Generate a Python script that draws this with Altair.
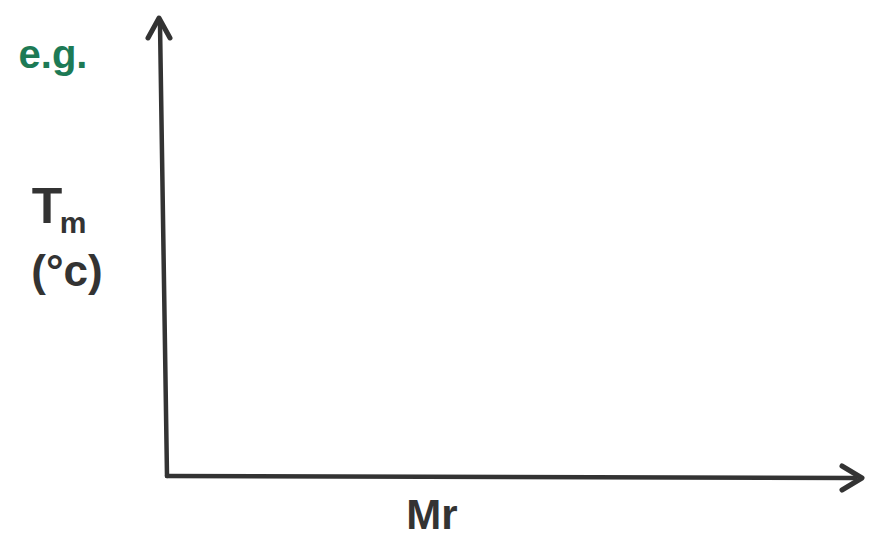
import altair as alt
import pandas as pd

# Axis lines (origin at the corner of the axes, units ~ pixels)
axis_name = ["y-axis", "y-axis", "x-axis", "x-axis"]
axis_x = [-5, 2, 2, 690]
axis_y = [452, 0, 0, -2]

# Arrow heads
head_name = ["up", "right"]
head_x = [-6, 697]
head_y = [458, -2]
head_shape = ["M-0.55,1L0,0L0.55,1", "M-1,-0.6L0,0L-1,0.6"]

# Labels
label_text = ["e.g.", "T", "m", "(°c)", "Mr"]
label_x = [-112, -118, -92, -98, 267]
label_y = [420, 268, 252, 203, -40]
label_size = [40, 50, 30, 44, 42]
label_color = ["#1d7a55", "#333333", "#333333", "#333333", "#333333"]

W, H = 861, 534
xs = alt.Scale(domain=[-157, 704], nice=False, zero=False)
ys = alt.Scale(domain=[-66, 468], nice=False, zero=False)

lines = pd.DataFrame({"axis": axis_name, "x": axis_x, "y": axis_y, "o": [0, 1, 0, 1]})
heads = pd.DataFrame({"name": head_name, "x": head_x, "y": head_y, "shape": head_shape})
labels = pd.DataFrame({"t": label_text, "x": label_x, "y": label_y, "s": label_size, "c": label_color})

line_layer = alt.Chart(lines).mark_line(
    color="#333333", strokeWidth=4.5, strokeCap="round"
).encode(
    x=alt.X("x:Q", scale=xs, axis=None),
    y=alt.Y("y:Q", scale=ys, axis=None),
    detail="axis:N",
    order="o:Q",
)

head_layers = []
for i in range(len(head_name)):
    d = heads.iloc[[i]]
    head_layers.append(
        alt.Chart(d).mark_point(
            shape=head_shape[i], filled=False, size=1600,
            stroke="#333333", strokeWidth=5, strokeCap="round", strokeJoin="round", opacity=1,
        ).encode(
            x=alt.X("x:Q", scale=xs, axis=None),
            y=alt.Y("y:Q", scale=ys, axis=None),
        )
    )

text_layers = []
for i in range(len(label_text)):
    d = labels.iloc[[i]]
    text_layers.append(
        alt.Chart(d).mark_text(
            fontSize=label_size[i], font="Liberation Sans", fontWeight="bold",
            color=label_color[i], align="center", baseline="middle",
        ).encode(
            x=alt.X("x:Q", scale=xs, axis=None),
            y=alt.Y("y:Q", scale=ys, axis=None),
            text="t:N",
        )
    )

chart = alt.layer(line_layer, *head_layers, *text_layers).properties(
    width=W, height=H, padding=0, autosize=alt.AutoSizeParams(type="none"),
    background="white",
).configure_view(stroke=None)

chart.save("out.html", embed_options={"renderer": "svg", "actions": False})
